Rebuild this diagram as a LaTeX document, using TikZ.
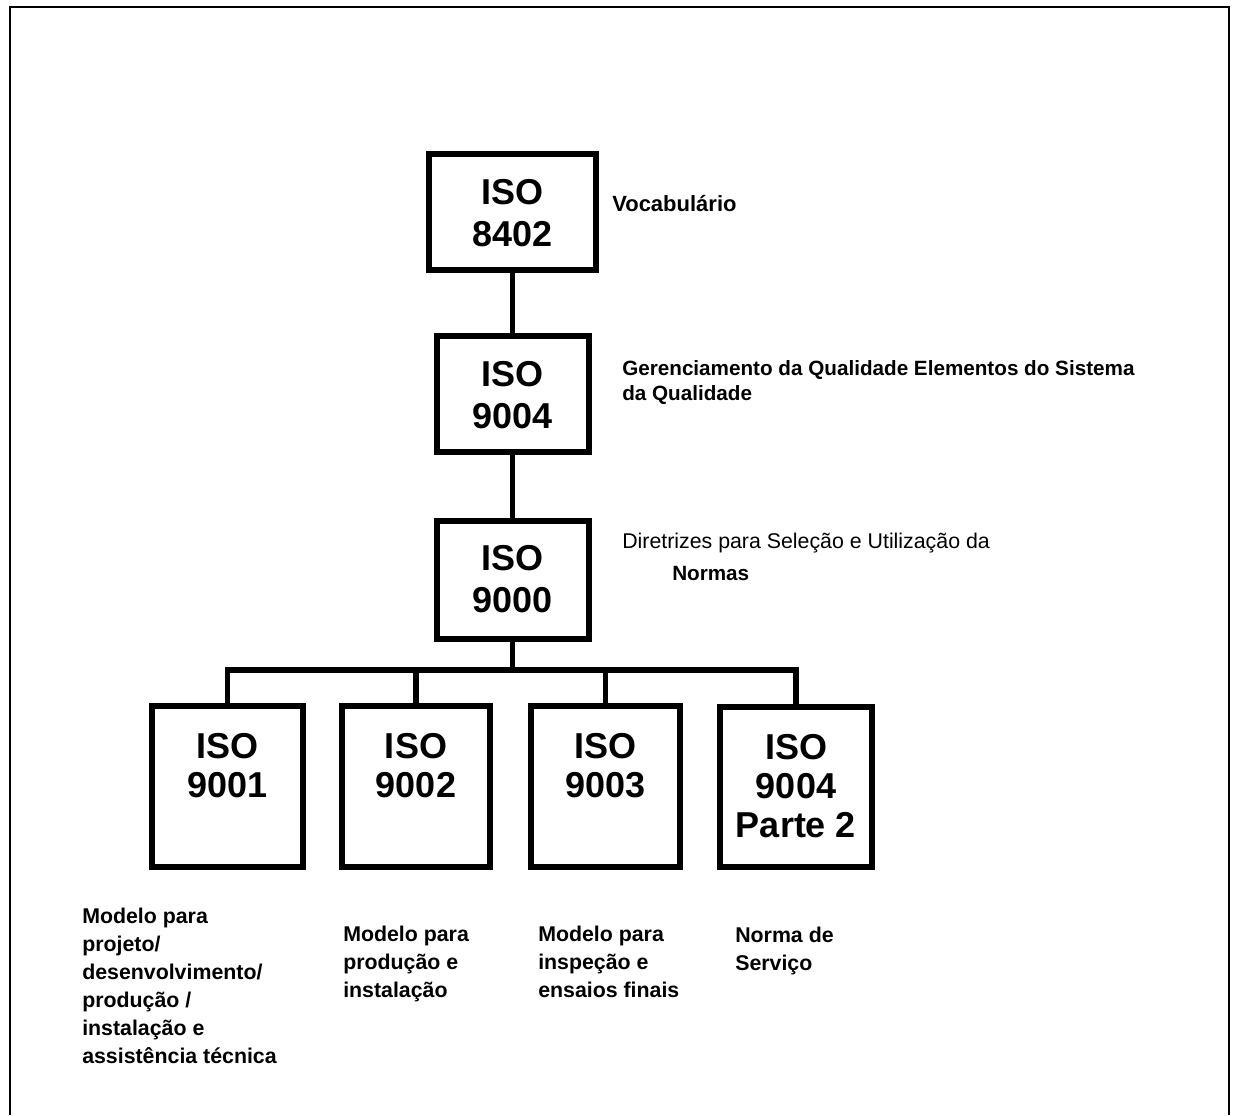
\documentclass[tikz,border=0pt]{standalone}
\usepackage{fontspec}
\setmainfont{Liberation Sans}
\begin{document}
\begin{tikzpicture}[x=0.75pt,y=-0.75pt,
  isobox/.style={draw, line width=4.5pt, inner sep=0pt, minimum width=114pt, minimum height=87pt},
  lowbox/.style={draw, line width=4.5pt, inner sep=0pt, minimum width=112pt, minimum height=120.75pt},
  conn/.style={line width=4pt},
  busline/.style={line width=4pt, line join=miter},
  frameline/.style={line width=2pt},
  bigtxt/.style={inner sep=0pt, anchor=base, font=\bfseries\fontsize{27}{32}\selectfont},
  lowtxt/.style={inner sep=0pt, anchor=base, font=\bfseries\fontsize{27}{29.5}\selectfont},
  lbl/.style={inner sep=0pt, anchor=base west, font=\bfseries\fontsize{16}{21}\selectfont},
  rlbl/.style={inner sep=0pt, anchor=base west, font=\fontsize{16}{21}\selectfont}
]
\useasboundingbox (0,0) rectangle (1237,1115);
% frame
\coordinate (fbl) at (10,1115);
\coordinate (ftl) at (10,7);
\coordinate (ftr) at (1229,7);
\coordinate (fbr) at (1229,1115);
\draw[frameline] (fbl) -- (ftl) -- (ftr) -- (fbr);

% upper boxes
\node[isobox, minimum width=125.25pt] (b8402) at (512.5,212) {};
\node[isobox] (b9004) at (512.5,394) {};
\node[isobox, minimum height=88.5pt] (b9000) at (512.5,580) {};
\node[bigtxt] (t8402) at (512.5,204) {\begin{tabular}[t]{@{}c@{}}ISO\\8402\end{tabular}};
\node[bigtxt] (t9004) at (512.5,386) {\begin{tabular}[t]{@{}c@{}}ISO\\9004\end{tabular}};
\node[bigtxt] (t9000) at (512.5,570) {\begin{tabular}[t]{@{}c@{}}ISO\\9000\end{tabular}};

% lower boxes
\node[lowbox, minimum width=113.25pt] (b9001) at (227.5,786.5) {};
\node[lowbox, minimum width=111pt] (b9002) at (416,786.5) {};
\node[lowbox, minimum width=111.75pt] (b9003) at (605.5,786.5) {};
\node[lowbox, minimum width=114pt, minimum height=120pt] (b9004b) at (796,787) {};
\node[lowtxt] (t9001) at (227.5,758) {\begin{tabular}[t]{@{}c@{}}ISO\\9001\end{tabular}};
\node[lowtxt] (t9002) at (416,758) {\begin{tabular}[t]{@{}c@{}}ISO\\9002\end{tabular}};
\node[lowtxt] (t9003) at (605.5,758) {\begin{tabular}[t]{@{}c@{}}ISO\\9003\end{tabular}};
\node[lowtxt] (t9004b) at (796,759) {\begin{tabular}[t]{@{}c@{}}ISO\\9004\\Parte 2\end{tabular}};

% connectors
\coordinate (bus) at (512.5,670);
\draw[conn] (b8402.south) -- (b9004.north);
\draw[conn] (b9004.south) -- (b9000.north);
\draw[conn] (b9000.south) -- (bus);
\draw[busline] (b9001.north) |- (bus) -| (b9004b.north);
\draw[conn] (b9002.north) -- (b9002.north |- bus);
\draw[conn] (b9003.north) -- (b9003.north |- bus);

% side labels
\node[lbl, font=\bfseries\fontsize{16.5}{21}\selectfont] (lvoc) at (612,211) {Vocabulário};
\node[lbl, font=\bfseries\fontsize{15.5}{18.75}\selectfont] (lger) at (622,375)
  {\begin{tabular}[t]{@{}l@{}}Gerenciamento da Qualidade Elementos do Sistema\\da Qualidade\end{tabular}};
\node[rlbl] (ldir) at (622,548) {Diretrizes para Seleção e Utilização da};
\node[lbl, font=\bfseries\fontsize{15.5}{21}\selectfont] (lnor) at (672,580) {Normas};

% bottom labels
\node[lbl] (l9001) at (82,923) {\begin{tabular}[t]{@{}l@{}}Modelo para\\projeto/\\desenvolvimento/\\produção /\\instalação e\\assistência técnica\end{tabular}};
\node[lbl] (l9002) at (343,941) {\begin{tabular}[t]{@{}l@{}}Modelo para\\produção e\\instalação\end{tabular}};
\node[lbl] (l9003) at (538,941) {\begin{tabular}[t]{@{}l@{}}Modelo para\\inspeção e\\ensaios finais\end{tabular}};
\node[lbl] (l9004b) at (735,942) {\begin{tabular}[t]{@{}l@{}}Norma de\\Serviço\end{tabular}};
\end{tikzpicture}
\end{document}
